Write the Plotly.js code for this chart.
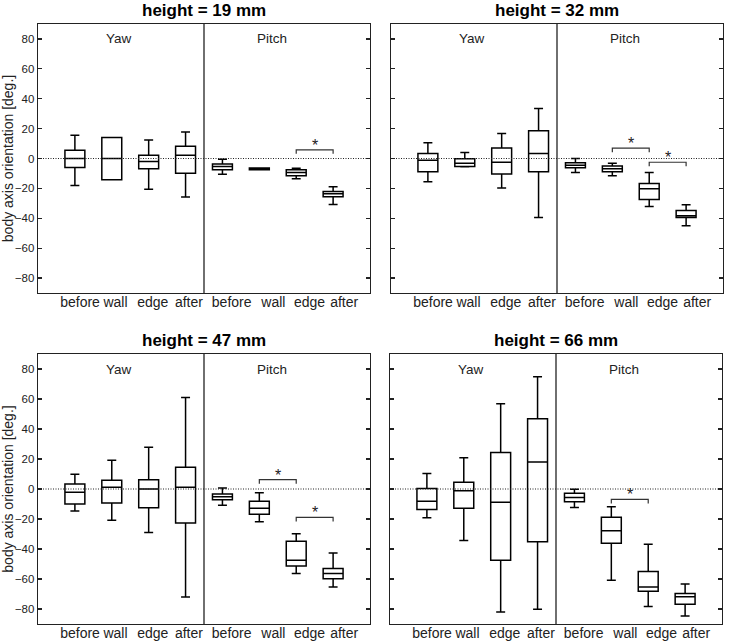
<!DOCTYPE html>
<html>
<head>
<meta charset="utf-8">
<script src="https://cdn.plot.ly/plotly-3.0.1.min.js"></script>
<style>html,body{margin:0;padding:0;background:#fff;}#chart{width:744px;height:643px;}</style>
</head>
<body>
<div id="chart"></div>
<script>
// ---- data ----
const categories = ['before', 'wall', 'edge', 'after', 'before', 'wall', 'edge', 'after'];
const positions = [0, 1, 2, 3, 4, 5, 6, 7];
const groupLabels = ['Yaw', 'Pitch'];
const panelTitles = ['height = 19 mm', 'height = 32 mm', 'height = 47 mm', 'height = 66 mm'];
const yTicks = [-80, -60, -40, -20, 0, 20, 40, 60, 80];

// height = 19 mm
const low19 = [-18, -14.3, -20.5, -25.8, -10.5, -7.6, -13.6, -30.8];
const q1_19 = [-6.0, -14.3, -6.9, -9.8, -7.6, -7.6, -11.6, -25.6];
const med19 = [0, 0, -2, 2.2, -5.3, -7, -9.4, -23.6];
const q3_19 = [5.6, 14, 2.2, 8.2, -3.6, -6.4, -7.6, -22];
const up19 = [15.6, 14, 12.3, 17.8, -0.5, -6.4, -6.5, -18.9];

// height = 32 mm
const low32 = [-15.6, -5.5, -19.8, -39.4, -9.4, -11.6, -32.1, -45];
const q1_32 = [-8.9, -5.3, -10.3, -8.9, -6.2, -8.9, -27.4, -39.4];
const med32 = [-1.1, -3.1, -2.5, 3.3, -4.5, -6.9, -20.3, -38.3];
const q3_32 = [3.3, -0.2, 7.1, 18.5, -2.9, -5.1, -16.7, -34.8];
const up32 = [10.5, 4, 16.7, 33.4, 0, -3.1, -9.4, -31];

// height = 47 mm
const low47 = [-14.7, -20.9, -29, -72, -10.9, -21.8, -56.4, -65.3];
const q1_47 = [-10, -9.4, -12.5, -22.7, -7.1, -16.9, -51.3, -59.9];
const med47 = [-2.2, 1.1, 0, 1.1, -5.1, -12.9, -47.5, -56.4];
const q3_47 = [3.3, 5.8, 6.2, 14.5, -3.3, -8.2, -34.8, -53];
const up47 = [9.8, 19.2, 27.9, 61, 0.7, -2.5, -29.9, -42.6];

// height = 66 mm
const low66 = [-19.2, -34.3, -82, -80.2, -12.3, -60.8, -78.4, -84.7];
const q1_66 = [-13.6, -12.9, -47.5, -35.2, -8.5, -36.1, -68.2, -76.9];
const med66 = [-8.2, -1.1, -8.9, 18, -5.6, -27.9, -65.3, -71.8];
const q3_66 = [0.4, 4.5, 24.3, 46.8, -2.9, -18.9, -55, -69.7];
const up66 = [10.3, 20.9, 56.8, 74.9, -0.2, -11.8, -36.8, -63.3];

// significance brackets (panel index, from category, to category, bracket level)
const sigPanel = [0, 1, 1, 2, 2, 3];
const sigFrom = [6, 5, 6, 5, 6, 5];
const sigTo = [7, 6, 7, 6, 7, 6];
const sigLevel = [5.8, 6.9, -2.5, 6.2, -18.9, -6.9];

// ---- build ----
const lows = [low19, low32, low47, low66];
const q1s = [q1_19, q1_32, q1_47, q1_66];
const meds = [med19, med32, med47, med66];
const q3s = [q3_19, q3_32, q3_47, q3_66];
const ups = [up19, up32, up47, up66];

const txtColor = '#222';
const fontFam = 'Liberation Sans, Arial, sans-serif';

// tick labels in the original sit a little right of their boxes (more so for Pitch)
const labelShift = [0.14, 0.1, 0.11, 0.09, 0.25, 0.38, 0.36, 0.3];
const labelVals = positions.map((v, i) => v + labelShift[i]);

const xDomains = [[38/744, 370/744], [391/744, 723/744], [38/744, 370/744], [390/744, 722/744]];
const yDomains = [[1-293/643, 1-24/643], [1-293/643, 1-24/643], [1-624/643, 1-354/643], [1-624/643, 1-354/643]];

const traces = [];
const layout = {
  width: 744, height: 643, autosize: false,
  margin: {l: 0, r: 0, t: 0, b: 0},
  paper_bgcolor: '#fff', plot_bgcolor: '#fff',
  showlegend: false,
  font: {family: fontFam, color: txtColor, size: 12},
  shapes: [], annotations: []
};

for (let p = 0; p < 4; p++) {
  const sfx = p === 0 ? '' : String(p + 1);
  const xa = 'x' + sfx, ya = 'y' + sfx;
  traces.push({
    type: 'box', xaxis: xa, yaxis: ya,
    x: positions, q1: q1s[p], median: meds[p], q3: q3s[p],
    lowerfence: lows[p], upperfence: ups[p],
    width: 0.54, whiskerwidth: 0.45,
    line: {color: '#000', width: 1.5},
    fillcolor: 'rgba(255,255,255,0)',
    boxpoints: false, hoverinfo: 'skip'
  });
  const leftCol = (p % 2 === 0);
  layout['xaxis' + sfx] = {
    domain: xDomains[p], anchor: ya, range: [-1, 8],
    tickmode: 'array', tickvals: labelVals, ticktext: categories,
    ticks: '', showgrid: false, zeroline: false,
    showline: true, mirror: true, linecolor: '#222', linewidth: 1.3,
    tickfont: {size: 14, color: txtColor, family: fontFam},
    ticklabelstandoff: -4, fixedrange: true
  };
  layout['yaxis' + sfx] = {
    domain: yDomains[p], anchor: xa, range: [-90, 90],
    tickmode: 'array', tickvals: yTicks,
    ticks: 'inside', ticklen: 4, tickcolor: '#222', tickwidth: 1.2,
    showticklabels: leftCol,
    showgrid: false, zeroline: false,
    showline: true, mirror: 'ticks', linecolor: '#222', linewidth: 1.3,
    tickfont: {size: 11.5, color: txtColor, family: fontFam},
    title: leftCol ? {text: 'body axis orientation [deg.]', font: {size: 14, color: txtColor, family: fontFam}, standoff: 2} : {text: ''},
    fixedrange: true
  };
  // dotted zero line
  layout.shapes.push({type: 'line', xref: xa + ' domain', yref: ya, x0: 0, x1: 1, y0: 0, y1: 0,
    line: {color: '#222', width: 1, dash: '1px,1.5px'}});
  // divider between Yaw and Pitch
  layout.shapes.push({type: 'line', xref: xa, yref: ya + ' domain', x0: 3.5, x1: 3.5, y0: 0, y1: 1,
    line: {color: '#222', width: 1.3}});
  // group labels
  layout.annotations.push({xref: xa, yref: ya, x: 1.2, y: 80, xanchor: 'center', text: groupLabels[0], showarrow: false,
    font: {size: 13.5, color: txtColor, family: fontFam}});
  layout.annotations.push({xref: xa, yref: ya, x: 5.35, y: 80, xanchor: 'center', text: groupLabels[1], showarrow: false,
    font: {size: 13.5, color: txtColor, family: fontFam}});
  // panel title
  const xd = xDomains[p];
  layout.annotations.push({xref: 'paper', yref: 'paper', x: (xd[0] + xd[1]) / 2, y: yDomains[p][1] + 14/643,
    xanchor: 'center', yanchor: 'middle', text: '<b>' + panelTitles[p] + '</b>', showarrow: false,
    font: {size: 17, color: '#000', family: fontFam}});
}

for (let i = 0; i < sigPanel.length; i++) {
  const p = sigPanel[i];
  const sfx = p === 0 ? '' : String(p + 1);
  const xa = 'x' + sfx, ya = 'y' + sfx;
  const a = sigFrom[i], b = sigTo[i], h = sigLevel[i];
  layout.shapes.push({type: 'path', xref: xa, yref: ya,
    path: `M ${a} ${h - 2.7} L ${a} ${h} L ${b} ${h} L ${b} ${h - 2.7}`,
    line: {color: '#333', width: 1.2}});
  layout.annotations.push({xref: xa, yref: ya, x: (a + b) / 2, y: h, xanchor: 'center', yanchor: 'bottom', yshift: -6,
    text: '*', showarrow: false, font: {size: 16, color: '#222', family: fontFam}});
}

Plotly.newPlot('chart', traces, layout, {displayModeBar: false, staticPlot: true});
</script>
</body>
</html>
